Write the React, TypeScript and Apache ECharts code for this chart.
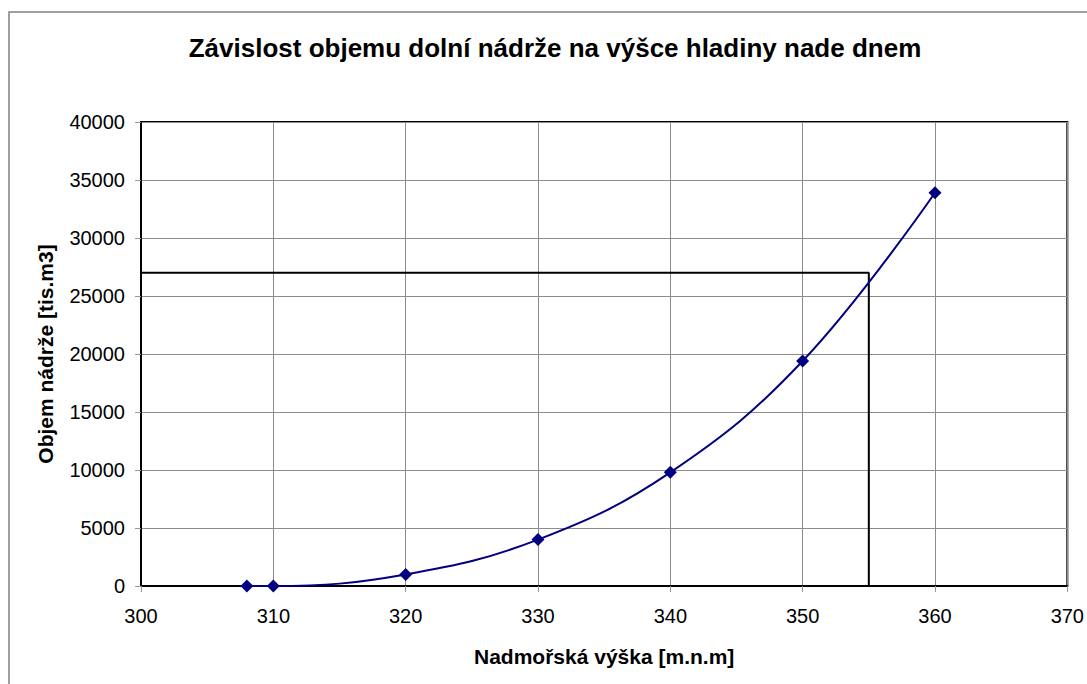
import React, { useEffect, useRef } from "react";
import * as echarts from "echarts";

const heights = [308, 310, 320, 330, 340, 350, 360];
const volumes = [0, 0, 1000, 4000, 9800, 19400, 33900];
const guideX = [300, 355, 355];
const guideY = [27000, 27000, 0];
const titleText = "Závislost objemu dolní nádrže na výšce hladiny nade dnem";
const xName = "Nadmořská výška [m.n.m]";
const yName = "Objem nádrže [tis.m3]";

export default function App() {
  const ref = useRef<HTMLDivElement>(null);
  useEffect(() => {
    if (!ref.current) return;
    const chart = echarts.init(ref.current, null, { renderer: "svg" });
    const font = "'Liberation Sans', Arial, sans-serif";
    chart.setOption({
      animation: false,
      backgroundColor: "#fff",
      title: {
        text: titleText,
        left: 550,
        textAlign: "center",
        top: 30,
        textStyle: { fontFamily: font, fontSize: 26, fontWeight: "bold", color: "#000" },
      },
      graphic: [
        {
          type: "polyline",
          shape: { points: [[9, 700], [9, 12], [1100, 12]] },
          style: { stroke: "#808080", lineWidth: 1.5, fill: "none" },
        },
      ],
      grid: {
        left: 141,
        top: 122,
        right: 19,
        bottom: 98,
        show: true,
        borderColor: "#000",
        borderWidth: 2,
      },
      xAxis: {
        type: "value",
        min: 300,
        max: 370,
        interval: 10,
        name: xName,
        nameLocation: "middle",
        nameGap: 60,
        nameTextStyle: { fontFamily: font, fontSize: 21, fontWeight: "bold", color: "#000" },
        axisLine: { show: true, onZero: false, lineStyle: { color: "#000", width: 2 } },
        axisTick: { show: true, length: 6, lineStyle: { color: "#999" } },
        axisLabel: { fontFamily: font, fontSize: 20, color: "#000", margin: 20, formatter: (v: number) => String(v) },
        splitLine: { show: true, lineStyle: { color: "#8c8c8c", width: 1 } },
      },
      yAxis: {
        type: "value",
        min: 0,
        max: 40000,
        interval: 5000,
        name: yName,
        nameLocation: "middle",
        nameGap: 85,
        nameTextStyle: { fontFamily: font, fontSize: 21, fontWeight: "bold", color: "#000" },
        axisLine: { show: true, lineStyle: { color: "#000", width: 2 } },
        axisTick: { show: true, length: 6, lineStyle: { color: "#999" } },
        axisLabel: { fontFamily: font, fontSize: 20, color: "#000", margin: 16, formatter: (v: number) => String(v) },
        splitLine: { show: true, lineStyle: { color: "#8c8c8c", width: 1 } },
      },
      series: [
        {
          type: "line",
          data: guideX.map((x, i) => [x, guideY[i]]),
          symbol: "none",
          lineStyle: { color: "#000", width: 2 },
          silent: true,
          z: 1,
        },
        {
          type: "line",
          data: heights.map((h, i) => [h, volumes[i]]),
          smooth: 0.4,
          symbol: "diamond",
          symbolSize: 13,
          itemStyle: { color: "#000080" },
          lineStyle: { color: "#000080", width: 2 },
          z: 3,
        },
      ],
    });
    return () => chart.dispose();
  }, []);
  return (
    <div
      ref={ref}
      style={{ position: "absolute", left: 0, top: 0, width: 1087, height: 684 }}
    />
  );
}
